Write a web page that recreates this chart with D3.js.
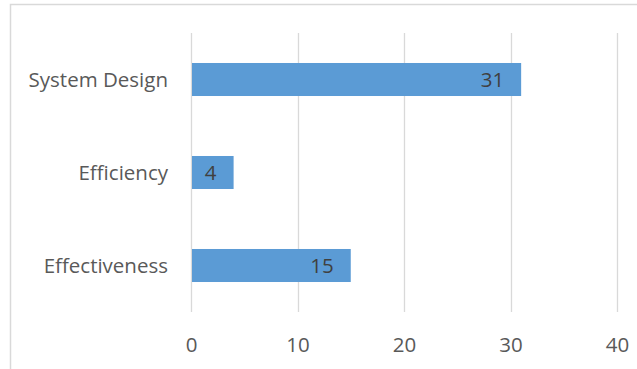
<!DOCTYPE html>
<html>
<head>
<meta charset="utf-8">
<script src="https://cdn.jsdelivr.net/npm/d3@7/dist/d3.min.js"></script>
<style>
  html, body { margin: 0; padding: 0; background: #fff; }
  svg { display: block; }
  text { font-family: "Open Sans", Lato, sans-serif; }
</style>
</head>
<body>
<svg id="chart" width="637" height="369"></svg>
<script>
// Categories, top to bottom, and their counts
const categories = ["System Design", "Efficiency", "Effectiveness"];
const values = [31, 4, 15];
const tickValues = [0, 10, 20, 30, 40];

const svg = d3.select("#chart");
const W = 637, H = 369;
const FONT = "'Open Sans', Lato, sans-serif";
const FS = "20.5px";

const plot = { left: 191, right: 617, top: 33, bottom: 312 };

// chart frame (only the left and top edges fall inside the view)
svg.append("path")
  .attr("d", `M10.5,${H} V4.5 H${W}`)
  .attr("fill", "none")
  .attr("stroke", "#d9d9d9")
  .attr("stroke-width", 1.5);

const x = d3.scaleLinear().domain([0, 40]).range([plot.left, plot.right]);
const y = d3.scaleBand().domain(categories).range([plot.top, plot.bottom])
  .paddingInner(0.645).paddingOuter(0.3225);

// vertical gridlines
svg.append("g")
  .selectAll("line")
  .data(tickValues)
  .join("line")
  .attr("x1", d => Math.round(x(d)) + 0.5)
  .attr("x2", d => Math.round(x(d)) + 0.5)
  .attr("y1", plot.top)
  .attr("y2", plot.bottom)
  .attr("stroke", "#d9d9d9")
  .attr("stroke-width", 1.3);

// x tick labels
const xAxis = d3.axisBottom(x).tickValues(tickValues).tickSize(0).tickPadding(0);
const gx = svg.append("g").attr("transform", `translate(0,${plot.bottom})`).call(xAxis);
gx.select(".domain").remove();
gx.selectAll("text")
  .attr("y", 40)
  .attr("dy", 0)
  .attr("fill", "#595959")
  .style("font-size", FS)
  .style("font-family", FONT);

// category labels
const yAxis = d3.axisLeft(y).tickSize(0).tickPadding(0);
const gy = svg.append("g").attr("transform", `translate(${plot.left - 23},0)`).call(yAxis);
gy.select(".domain").remove();
gy.selectAll("text")
  .attr("dy", "0.36em")
  .attr("fill", "#595959")
  .style("font-size", FS)
  .style("font-family", FONT);

// bars
const data = categories.map((c, i) => ({ c, v: values[i] }));
svg.append("g")
  .selectAll("rect")
  .data(data)
  .join("rect")
  .attr("x", x(0) + 1)
  .attr("y", d => y(d.c))
  .attr("width", d => x(d.v) - x(0) - 1)
  .attr("height", y.bandwidth())
  .attr("fill", "#5b9bd5");

// value labels at the inside end of each bar
svg.append("g")
  .selectAll("text")
  .data(data)
  .join("text")
  .attr("x", d => x(d.v) - 17)
  .attr("y", d => y(d.c) + y.bandwidth() / 2)
  .attr("dy", "0.36em")
  .attr("text-anchor", "end")
  .attr("fill", "#404040")
  .style("font-size", FS)
  .text(d => d.v);
</script>
</body>
</html>
